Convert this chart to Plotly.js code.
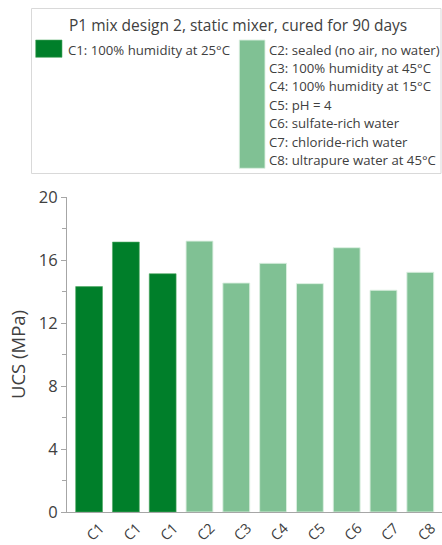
<!DOCTYPE html>
<html>
<head>
<meta charset="utf-8">
<script src="https://cdn.plot.ly/plotly-3.0.1.min.js"></script>
<style>html,body{margin:0;padding:0;background:#fff;}#chart{width:442px;height:545px;}</style>
</head>
<body>
<div id="chart"></div>
<script>
// Data
const categories = ["C1", "C1", "C1", "C2", "C3", "C4", "C5", "C6", "C7", "C8"];
const ucsValues = [14.31, 17.14, 15.13, 17.2, 14.54, 15.79, 14.5, 16.78, 14.08, 15.22];
const groupOf = ["C1", "C1", "C1", "other", "other", "other", "other", "other", "other", "other"];
const chartTitle = "P1 mix design 2, static mixer, cured for 90 days";
const legendC1 = ["C1: 100% humidity at 25°C"];
const legendOthers = [
  "C2: sealed (no air, no water)",
  "C3: 100% humidity at 45°C",
  "C4: 100% humidity at 15°C",
  "C5: pH = 4",
  "C6: sulfate-rich water",
  "C7: chloride-rich water",
  "C8: ultrapure water at 45°C"
];
const yTicks = [0, 4, 8, 12, 16, 20];

const darkGreen = "#007F2A";
const lightGreen = "#80C194";

const xIdx = categories.map((c, i) => i);
const colors = groupOf.map(g => g === "C1" ? darkGreen : lightGreen);
const lineColors = groupOf.map(g => g === "C1" ? "rgba(80,170,100,0.6)" : "rgba(220,240,225,0.9)");

const trace = {
  type: "bar",
  x: xIdx,
  y: ucsValues,
  marker: {color: colors, line: {color: lineColors, width: 1}},
  width: 0.73,
  showlegend: false,
  hoverinfo: "y"
};

// pixel -> paper helpers (plot area: x 67..442, y 197..512)
const L = 67, R = 0, T = 197, B = 33, W = 442, H = 545;
const pw = W - L - R, ph = H - T - B;
const px = v => (v - L) / pw;
const py = v => (H - B - v) / ph;

const shapes = [
  {type: "rect", xref: "paper", yref: "paper", x0: px(31.5), x1: px(441), y0: py(8.5), y1: py(173.5),
   line: {color: "#d9d9d9", width: 1}, fillcolor: "rgba(0,0,0,0)"},
  {type: "rect", xref: "paper", yref: "paper", x0: px(35.7), x1: px(62), y0: py(40), y1: py(57.3),
   line: {color: "rgba(80,170,100,0.6)", width: 1}, fillcolor: darkGreen},
  {type: "rect", xref: "paper", yref: "paper", x0: px(239.3), x1: px(265), y0: py(40), y1: py(168.3),
   line: {color: "rgba(220,240,225,0.9)", width: 1}, fillcolor: lightGreen}
];

const textFont = {family: "Open Sans, Noto Sans, sans-serif", size: 13.2, color: "#404040"};
const annotations = [
  {xref: "paper", yref: "paper", x: px(238), y: py(25), text: chartTitle, showarrow: false,
   xanchor: "center", yanchor: "middle", font: {family: "Open Sans, Noto Sans, sans-serif", size: 15.5, color: "#404040"}},
  {xref: "paper", yref: "paper", x: px(66), y: py(49.5), text: legendC1[0], showarrow: false,
   xanchor: "left", yanchor: "middle", font: textFont}
];
legendOthers.forEach((t, i) => {
  annotations.push({xref: "paper", yref: "paper", x: px(266.5), y: py(49.5 + i * 18.45), text: t, showarrow: false,
    xanchor: "left", yanchor: "middle", font: textFont});
});

const layout = {
  width: W, height: H,
  margin: {l: L, r: R, t: T, b: B},
  paper_bgcolor: "#fff", plot_bgcolor: "#fff",
  bargap: 0.27,
  xaxis: {
    range: [-0.6, 9.59],
    tickmode: "array", tickvals: xIdx, ticktext: categories,
    tickangle: -45,
    ticklabelshift: 11,
    ticklabelstandoff: 1,
    showline: true, linecolor: "#a6a6a6", linewidth: 1,
    ticks: "", showgrid: false, zeroline: false,
    tickfont: {family: "Open Sans, Noto Sans, sans-serif", size: 14.5, color: "#404040"},
    automargin: false
  },
  yaxis: {
    range: [0, 20],
    tickmode: "array", tickvals: yTicks,
    showline: true, linecolor: "#a6a6a6", linewidth: 1,
    ticks: "outside", ticklen: 5, tickcolor: "#a6a6a6",
    minor: {tickvals: [2, 6, 10, 14, 18], ticks: "outside", ticklen: 4, tickcolor: "#a6a6a6", showgrid: false},
    showgrid: false, zeroline: false,
    tickfont: {family: "Open Sans, Noto Sans, sans-serif", size: 16.5, color: "#404040"},
    title: {text: "UCS (MPa)", font: {family: "Open Sans, Noto Sans, sans-serif", size: 18.5, color: "#404040"}, standoff: 8},
    automargin: false
  },
  shapes: shapes,
  annotations: annotations
};

Plotly.newPlot("chart", [trace], layout, {displayModeBar: false, staticPlot: true});
</script>
</body>
</html>
